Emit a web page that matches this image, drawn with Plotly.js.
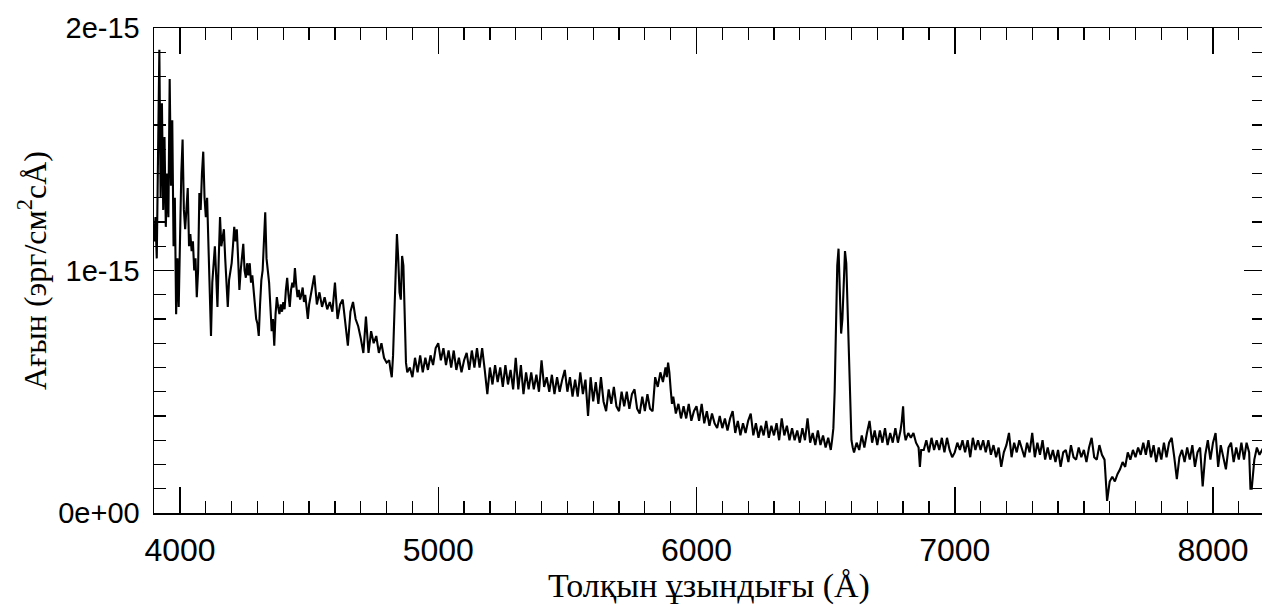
<!DOCTYPE html>
<html>
<head>
<meta charset="utf-8">
<script src="https://cdn.plot.ly/plotly-3.0.1.min.js"></script>
<style>
html,body{margin:0;padding:0;background:#fff;overflow:hidden;}
#chart{width:1264px;height:605px;}
</style>
</head>
<body>
<div id="chart"></div>
<script>
// Wavelength (Å)
const wavelength = [
3900,3905,3910,3915,3920,3925,3930,3935,3940,3945,3950,3955,3960,3965,3970,3975,3980,3985,3990,3995,
4000,4005,4010,4015,4020,4025,4030,4035,4040,4045,4050,4055,4060,4065,4070,4075,4080,4085,4090,4095,
4100,4105,4110,4115,4120,4125,4130,4135,4140,4145,4150,4155,4160,4165,4170,4175,4180,4185,4190,4195,
4200,4205,4210,4215,4220,4225,4230,4235,4240,4245,4250,4255,4260,4265,4270,4275,4280,4285,4290,4295,
4300,4305,4310,4315,4320,4325,4330,4335,4340,4345,4350,4355,4360,4365,4370,4375,4380,4385,4390,4395,
4400,4405,4410,4415,4420,4425,4430,4435,4440,4445,4450,4455,4460,4465,4470,4475,4480,4485,4490,4495,
4500,4510,4520,4530,4540,4550,4560,4570,4580,4590,4600,4610,4620,4630,4640,4650,4660,4670,4680,4690,
4700,4710,4720,4730,4740,4750,4760,4770,4780,4790,4800,
4810,4815,4820,4825,4830,4835,4840,4845,4850,4855,4860,4865,4870,4875,4880,
4890,4900,4910,4920,4930,4940,4950,4960,4970,4980,4990,5000,5010,5020,5030,5040,5050,5060,5070,5080,
5090,5100,5110,5120,5130,5140,5150,5160,5170,5180,5190,5200,5210,5220,5230,5240,5250,5260,5270,5280,
5290,5300,5310,5320,5330,5340,5350,5360,5370,5380,5390,5400,5410,5420,5430,5440,5450,5460,5470,5480,
5490,5500,5510,5520,5530,5540,5550,5560,5570,5580,5590,5600,5610,5620,5630,5640,5650,5660,5670,5680,
5690,5700,5710,5720,5730,5740,5750,5760,5770,5780,5790,5800,5810,5820,5830,
5840,5850,5860,5870,5880,5885,5890,5895,5900,5905,5910,
5920,5930,5940,5950,5960,5970,5980,5990,6000,6010,6020,6030,6040,6050,6060,6070,6080,6090,6100,6110,
6120,6130,6140,6150,6160,6170,6180,6190,6200,6210,6220,6230,6240,6250,6260,6270,6280,6290,6300,6310,
6320,6330,6340,6350,6360,6370,6380,6390,6400,6410,6420,6430,6440,6450,6460,6470,6480,6490,6500,6510,6520,
6525,6530,6535,6540,6545,6550,6555,6560,6565,6570,6575,6580,6585,6590,6595,6600,6605,6610,
6620,6630,6640,6650,6660,6670,6680,6690,6700,6710,6720,6730,6740,6750,6760,6770,6780,6790,
6795,6800,6805,6810,6820,6830,6840,6850,6860,6865,6870,
6880,6890,6900,6910,6920,6930,6940,6950,6960,6970,6980,6990,7000,7010,7020,7030,7040,7050,7060,7070,
7080,7090,7100,7110,7120,7130,7140,7150,7160,7170,7180,7190,7200,7210,7220,7230,7240,7250,7260,7270,
7280,7290,7300,7310,7320,7330,7340,7350,7360,7370,7380,7390,7400,7410,7420,7430,7440,7450,7460,7470,
7480,7490,7500,7510,7520,7530,7540,7550,7560,7570,7580,
7585,7590,7595,7600,
7610,7620,7630,7640,7650,7660,7670,7680,7690,7700,7710,7720,7730,7740,7750,7760,7770,7780,7790,7800,
7810,7820,7830,7840,7850,7860,7870,7880,7890,7900,7910,7920,7930,7940,7950,7960,7970,7980,7990,8000,
8010,8020,8030,8040,8050,8060,8070,8080,8090,8100,8110,8120,8130,8140,
8145,8150,8160,8170,8180,8190,8197
];

// Flux, in units of 1e-15 erg/cm²/s/Å
const flux = [
1.12,1.22,1.05,1.40,1.91,1.30,1.69,1.25,1.55,1.18,1.40,1.22,1.79,1.35,1.62,1.10,1.30,0.82,1.05,0.85,
1.20,1.40,1.54,1.25,1.17,1.28,1.34,1.10,1.15,1.08,1.12,1.00,1.05,0.89,1.00,1.32,1.25,1.40,1.49,1.30,
1.22,1.30,1.10,0.95,0.73,0.95,1.02,1.10,0.98,0.85,1.05,1.22,1.10,1.14,1.17,1.05,0.95,0.85,0.96,1.00,
1.03,1.10,1.18,1.12,1.17,1.05,0.92,1.00,1.05,1.11,1.00,0.97,1.03,0.98,1.03,0.95,0.98,0.91,0.86,0.80,
0.78,0.73,0.86,0.96,1.00,1.10,1.24,1.05,0.99,0.95,0.85,0.75,0.80,0.69,0.82,0.89,0.85,0.82,0.86,0.83,
0.87,0.84,0.92,0.97,0.90,0.85,0.92,0.95,0.93,1.01,0.94,0.89,0.92,0.88,0.90,0.93,0.87,0.90,0.85,0.80,
0.86,0.92,0.98,0.86,0.91,0.85,0.89,0.84,0.87,0.83,0.95,0.80,0.86,0.88,0.78,0.69,0.83,0.87,0.80,0.77,
0.72,0.66,0.81,0.66,0.75,0.70,0.73,0.66,0.70,0.64,0.62,
0.63,0.59,0.56,0.65,0.85,1.05,1.15,1.05,0.91,0.88,1.06,1.02,0.80,0.62,0.58,
0.60,0.56,0.64,0.58,0.65,0.58,0.64,0.59,0.65,0.61,0.68,0.70,0.63,0.68,0.61,0.67,0.60,0.67,0.59,0.64,
0.58,0.63,0.66,0.59,0.67,0.60,0.68,0.60,0.68,0.59,0.49,0.60,0.53,0.61,0.54,0.60,0.52,0.61,0.53,0.59,
0.51,0.64,0.51,0.61,0.49,0.58,0.51,0.58,0.51,0.57,0.50,0.63,0.52,0.56,0.50,0.57,0.49,0.56,0.50,0.55,
0.59,0.50,0.56,0.48,0.55,0.48,0.58,0.49,0.55,0.40,0.56,0.46,0.54,0.45,0.56,0.46,0.42,0.51,0.45,0.52,
0.44,0.42,0.50,0.44,0.50,0.43,0.49,0.51,0.43,0.41,0.48,0.42,0.49,0.43,0.42,
0.56,0.52,0.58,0.54,0.60,0.56,0.62,0.58,0.51,0.45,0.48,
0.41,0.45,0.39,0.44,0.39,0.45,0.38,0.42,0.44,0.38,0.45,0.37,0.42,0.36,0.41,0.37,0.35,0.40,0.35,0.39,
0.34,0.39,0.42,0.33,0.38,0.32,0.37,0.33,0.38,0.41,0.32,0.37,0.31,0.36,0.32,0.38,0.31,0.36,0.32,0.37,
0.30,0.39,0.32,0.36,0.30,0.35,0.30,0.34,0.29,0.35,0.30,0.39,0.29,0.33,0.28,0.34,0.28,0.32,0.27,0.31,0.26,
0.30,0.35,0.50,0.80,1.02,1.09,0.92,0.74,0.80,0.98,1.08,1.03,0.85,0.60,0.42,0.30,0.27,0.25,
0.29,0.26,0.32,0.27,0.33,0.38,0.29,0.34,0.28,0.34,0.29,0.35,0.28,0.33,0.29,0.35,0.29,0.34,
0.38,0.44,0.33,0.30,0.33,0.31,0.33,0.29,0.27,0.19,0.26,
0.26,0.30,0.25,0.31,0.26,0.30,0.26,0.31,0.25,0.31,0.26,0.23,0.25,0.29,0.26,0.30,0.25,0.30,0.23,0.31,
0.26,0.30,0.26,0.30,0.25,0.30,0.24,0.28,0.23,0.27,0.19,0.25,0.28,0.33,0.23,0.29,0.25,0.30,0.26,0.23,
0.29,0.25,0.33,0.23,0.29,0.24,0.30,0.22,0.27,0.22,0.26,0.21,0.26,0.19,0.25,0.26,0.21,0.28,0.23,0.22,
0.27,0.23,0.26,0.21,0.27,0.31,0.23,0.22,0.28,0.24,0.22,
0.12,0.05,0.09,0.13,
0.15,0.13,0.16,0.18,0.21,0.19,0.25,0.22,0.26,0.23,0.27,0.24,0.29,0.24,0.30,0.23,0.28,0.21,0.27,0.22,
0.29,0.23,0.29,0.31,0.23,0.14,0.23,0.26,0.21,0.27,0.22,0.28,0.19,0.25,0.27,0.11,0.24,0.30,0.22,0.29,
0.33,0.19,0.28,0.23,0.18,0.27,0.29,0.21,0.27,0.22,0.29,0.22,0.29,0.25,
0.10,0.10,0.22,0.27,0.24,0.26,0.25
];

const xTickVals = [4000, 5000, 6000, 7000, 8000];
const xTickText = ['4000', '5000', '6000', '7000', '8000'];
const yTickVals = [0, 1, 2];
const yTickText = ['0e+00', '1e-15', '2e-15'];

const trace = {
  x: wavelength,
  y: flux,
  type: 'scatter',
  mode: 'lines',
  line: {color: '#000000', width: 2.1},
  hoverinfo: 'x+y'
};

const layout = {
  width: 1264,
  height: 605,
  margin: {l: 154, r: 0, t: 28, b: 92},
  paper_bgcolor: '#ffffff',
  plot_bgcolor: '#ffffff',
  showlegend: false,
  xaxis: {
    range: [3899.3, 8197.5],
    tickmode: 'array',
    tickvals: xTickVals,
    ticktext: xTickText,
    ticks: 'inside',
    ticklen: 26,
    tickwidth: 1.5,
    tickcolor: '#000',
    showline: true,
    linecolor: '#000',
    linewidth: 1.5,
    mirror: 'ticks',
    showgrid: false,
    zeroline: false,
    ticklabelstandoff: 8,
    tickfont: {family: 'Liberation Sans, Arial, sans-serif', size: 32, color: '#000'},
    minor: {dtick: 100, tick0: 0, ticks: 'inside', ticklen: 12, tickwidth: 1.3, tickcolor: '#000', showgrid: false},
    title: {
      text: 'Толқын ұзындығы (Å)',
      font: {family: 'Liberation Serif, Times New Roman, serif', size: 34, color: '#000'},
      standoff: 4
    }
  },
  yaxis: {
    range: [0, 2],
    tickmode: 'array',
    tickvals: yTickVals,
    ticktext: yTickText,
    ticks: 'inside',
    ticklen: 20,
    tickwidth: 1.5,
    tickcolor: '#000',
    showline: true,
    linecolor: '#000',
    linewidth: 1.5,
    mirror: 'ticks',
    showgrid: false,
    zeroline: false,
    ticklabelstandoff: 7,
    tickfont: {family: 'Liberation Sans, Arial, sans-serif', size: 29, color: '#000'},
    minor: {dtick: 0.1, tick0: 0, ticks: 'inside', ticklen: 12, tickwidth: 1.3, tickcolor: '#000', showgrid: false},
    title: {
      text: 'Ағын (эрг/см<sup>2</sup>сÅ)',
      font: {family: 'Liberation Serif, Times New Roman, serif', size: 32, color: '#000'},
      standoff: 2
    }
  }
};

Plotly.newPlot('chart', [trace], layout, {displayModeBar: false, staticPlot: true});
</script>
</body>
</html>
